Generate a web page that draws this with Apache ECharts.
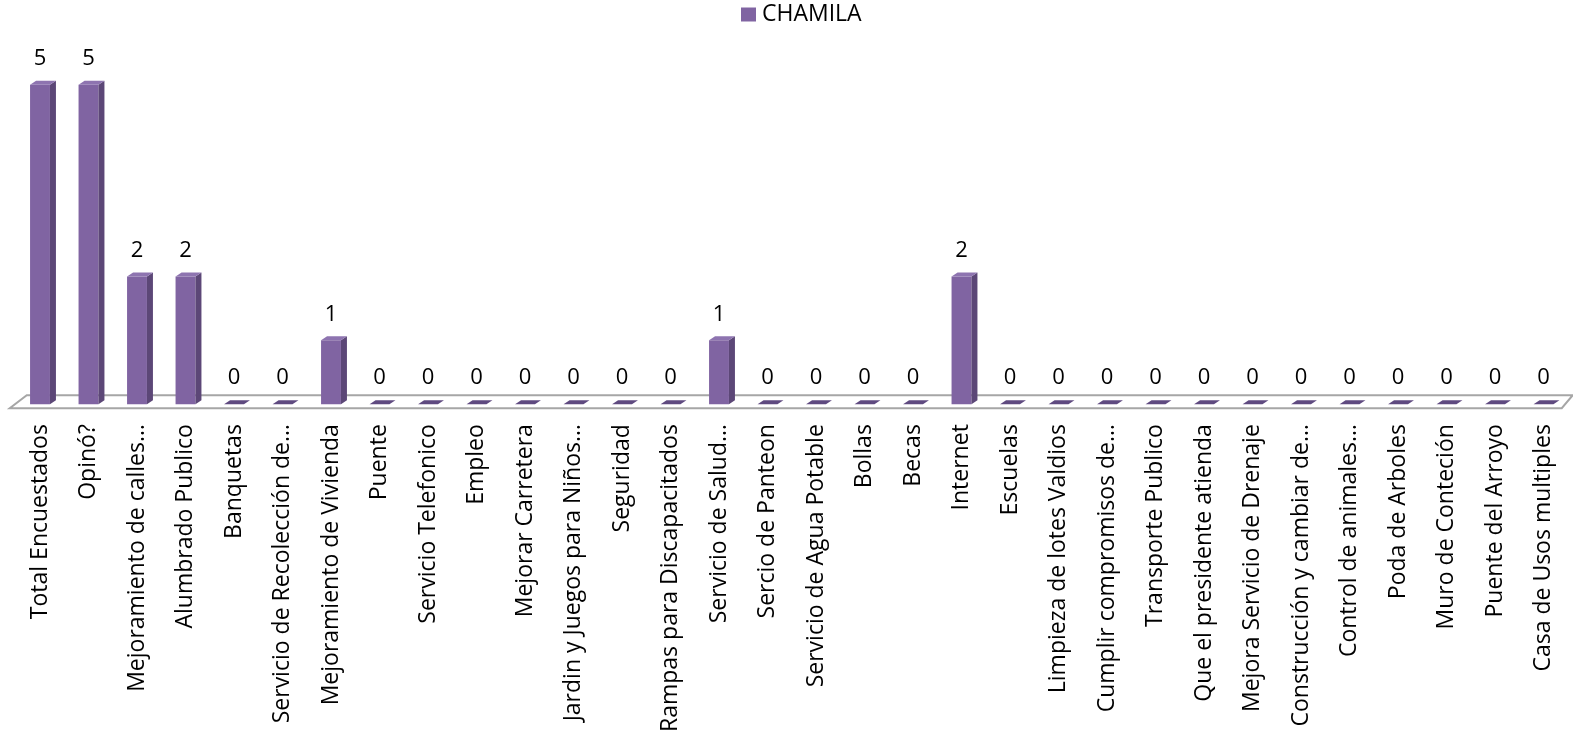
<!DOCTYPE html>
<html>
<head>
<meta charset="utf-8">
<script src="https://cdn.jsdelivr.net/npm/echarts@6/dist/echarts.min.js"></script>
<style>html,body{margin:0;padding:0;background:#fff;}#c{width:1573px;height:735px;}</style>
</head>
<body>
<div id="c"></div>
<script>
var categories = [
  "Total Encuestados", "Opinó?", "Mejoramiento de calles…", "Alumbrado Publico",
  "Banquetas", "Servicio de Recolección de…", "Mejoramiento de Vivienda", "Puente",
  "Servicio Telefonico", "Empleo", "Mejorar Carretera", "Jardin y Juegos para Niños…",
  "Seguridad", "Rampas para Discapacitados", "Servicio de Salud…", "Sercio de Panteon",
  "Servicio de Agua Potable", "Bollas", "Becas", "Internet",
  "Escuelas", "Limpieza de lotes Valdios", "Cumplir compromisos de…", "Transporte Publico",
  "Que el presidente atienda", "Mejora Servicio de Drenaje", "Construcción y cambiar de…", "Control de animales…",
  "Poda de Arboles", "Muro de Conteción", "Puente del Arroyo", "Casa de Usos multiples"
];
var seriesName = "CHAMILA";
var values = [5, 5, 2, 2, 0, 0, 1, 0, 0, 0, 0, 0, 0, 0, 1, 0, 0, 0, 0, 2, 0, 0, 0, 0, 0, 0, 0, 0, 0, 0, 0, 0];

var FRONT = '#8064A2', SIDE = '#5C4777', TOP = '#8E74B0', FLAT = '#5F4A80';
var DX = 6, DY = 4;

var chart = echarts.init(document.getElementById('c'));
var barData = values.map(function (v, i) { return [i, v]; });

function renderBar(params, api) {
  var i = api.value(0), v = api.value(1);
  var base = api.coord([i, 0]);
  var top = api.coord([i, v]);
  var bw = api.size([1, 0])[0] * 0.41;
  var x0 = base[0] - bw / 2, x1 = base[0] + bw / 2;
  var children = [];
  if (v > 0) {
    children.push({ type: 'rect', shape: { x: x0, y: top[1], width: bw, height: base[1] - top[1] }, style: { fill: FRONT } });
    children.push({ type: 'polygon', shape: { points: [[x1, base[1]], [x1, top[1]], [x1 + DX, top[1] - DY], [x1 + DX, base[1] - DY]] }, style: { fill: SIDE } });
    children.push({ type: 'polygon', shape: { points: [[x0, top[1]], [x1, top[1]], [x1 + DX, top[1] - DY], [x0 + DX, top[1] - DY]] }, style: { fill: TOP } });
  } else {
    children.push({ type: 'polygon', shape: { points: [[x0, base[1]], [x1, base[1]], [x1 + DX, base[1] - DY], [x0 + DX, base[1] - DY]] }, style: { fill: FLAT } });
  }
  children.push({ type: 'text', style: { text: String(v), x: base[0], y: top[1] - 26, align: 'center', verticalAlign: 'middle', font: '22px Open Sans', fill: '#000' } });
  return { type: 'group', children: children };
}

function renderFloor(params, api) {
  var cs = params.coordSys;
  var b = api.coord([0, 0])[1];
  var fy = b + 4, by = b - 9;
  var pts = [[cs.x - 6, fy], [cs.x + cs.width - 6, fy], [cs.x + cs.width + 5, by], [cs.x + 11, by]];
  return { type: 'polygon', shape: { points: pts }, style: { fill: '#fff', stroke: '#A6A6A6', lineWidth: 2 } };
}

chart.setOption({
  animation: false,
  backgroundColor: '#fff',
  legend: {
    data: [{ name: seriesName, icon: 'rect' }],
    left: 741, top: 3, padding: 0,
    itemWidth: 15, itemHeight: 14, itemGap: 6,
    textStyle: { fontFamily: 'Open Sans', fontSize: 23, color: '#000', padding: [0, 0, 0, 1] }
  },
  grid: { left: 15.75, right: 5.25, top: 21, bottom: 330, containLabel: false },
  xAxis: {
    type: 'category', data: categories,
    axisLine: { show: false }, axisTick: { show: false },
    axisLabel: { interval: 0, rotate: 90, margin: 20, fontFamily: 'Open Sans', fontSize: 23, color: '#000' }
  },
  yAxis: { type: 'value', min: 0, max: 6, show: false, splitLine: { show: false } },
  series: [
    { type: 'custom', name: 'floor', data: [[0, 0]], renderItem: renderFloor, clip: false, z: 1, silent: true },
    { type: 'custom', name: seriesName, data: barData, renderItem: renderBar, clip: false, z: 2, itemStyle: { color: FRONT }, encode: { x: 0, y: 1 } }
  ]
});
</script>
</body>
</html>
